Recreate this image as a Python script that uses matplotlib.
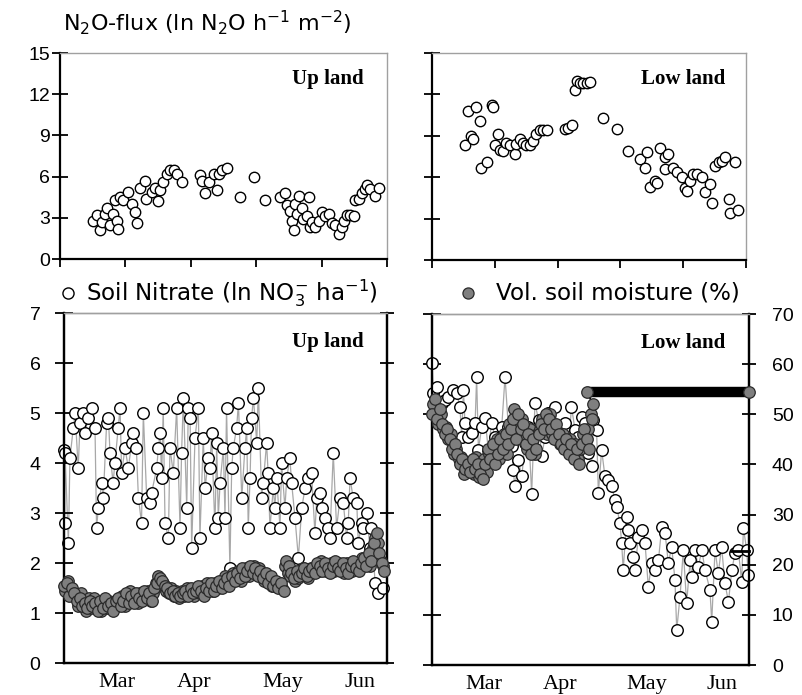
import matplotlib
matplotlib.use('Agg')
import matplotlib.pyplot as plt
from matplotlib.lines import Line2D

plt.rcParams['font.family'] = ['Liberation Sans', 'DejaVu Sans']
plt.rcParams['mathtext.fontset'] = 'dejavusans'

# ---------------- DATA ----------------
# x = day index since start of record
month_labels = ['Mar', 'Apr', 'May', 'Jun']
month_pos = [20.5, 50.5, 84.5, 114.5]

# N2O flux, upland (ln N2O h-1 m-2)
up_n2o_day = [12.8, 14, 15.3, 16, 17.2, 17.9, 19, 20.4, 21, 21.7, 22.3, 23, 24.2, 26, 27.4, 28.7,
              29.3, 30.6, 32.5, 33, 35, 36.4, 37.6, 38.3, 39.5, 40.8, 42, 43.4, 44.6, 46.6, 53.6,
              54.2, 55.5, 56.8, 58.7, 60, 60.6, 61.9, 63.8, 68.9, 74, 78.4, 84.2, 86, 86.7, 88,
              88.6, 89.3, 90, 90.6, 91.2, 92.5, 93, 94.4, 95, 95.7, 96.3, 97.6, 98.9, 100, 101.4,
              102.7, 104, 105, 106.5, 107.8, 108.4, 109.7, 111, 112.2, 112.9, 114.2, 115.4, 116.7,
              117.3, 118.6, 120.5, 121.8]
up_n2o_val = [2.8, 3.2, 2.1, 2.7, 3.3, 3.7, 2.5, 3.3, 4.3, 2.8, 2.2, 4.5, 4.3, 4.9, 4.0, 3.4,
              2.6, 5.2, 5.7, 4.4, 4.9, 5.2, 4.2, 5.0, 5.6, 6.2, 6.5, 6.5, 6.2, 5.6, 6.1,
              5.7, 4.8, 5.6, 6.2, 5.0, 6.2, 6.5, 6.6, 4.5, 6.0, 4.3, 4.5, 4.8, 3.9, 3.5,
              2.8, 2.1, 4.0, 3.3, 4.6, 3.7, 2.9, 3.1, 4.5, 2.3, 2.7, 2.3, 2.8, 3.4, 3.1,
              3.3, 2.6, 2.5, 1.8, 2.3, 2.8, 3.2, 3.2, 3.1, 4.3, 4.4, 4.8, 5.1,
              5.4, 5.1, 4.6, 5.2]

# N2O flux, lowland
low_n2o_day = [13, 14.4, 15.7, 16.4, 17.7, 19, 19.7, 21.7, 23.7, 24.3, 26.3, 25, 27, 28.3, 29.6,
               31, 33, 33.6, 35, 36.3, 37.6, 39, 40.3, 41.6, 43, 44.3, 45.6, 53, 54.3, 55.6, 57,
               57.6, 58.9, 60.2, 61.6, 62.9, 68.2, 73.5, 78.2, 82.8, 84.8, 85.5, 86.8, 88.8, 89.5,
               90.8, 92.8, 94.1, 92.8, 96.1, 97.5, 99.5, 100.8, 101.5, 102.8, 104.1, 105.5, 107.5,
               108.8, 110.8, 111.4, 112.8, 114.1, 115.4, 116.8, 118.1, 118.8, 120.7, 122]
low_n2o_val = [8.3, 10.8, 9.0, 8.8, 11.1, 10.1, 6.7, 7.1, 11.2, 11.1, 9.1, 8.3, 8.0, 7.9, 8.5,
               8.3, 7.7, 8.4, 8.8, 8.5, 8.3, 8.3, 8.6, 9.1, 9.4, 9.4, 9.4, 9.5, 9.6, 9.8, 12.3,
               13.0, 12.8, 12.8, 12.8, 12.9, 10.3, 9.5, 7.9, 7.3, 6.7, 7.8, 5.3, 5.7, 5.6,
               8.1, 7.5, 7.7, 6.6, 6.7, 6.4, 6.0, 5.2, 5.0, 5.7, 6.2, 6.2, 6.0,
               4.9, 5.5, 4.1, 6.8, 7.1, 7.2, 7.5, 4.4, 3.4, 7.1, 3.6]

# Soil nitrate, upland (ln NO3- ha-1)
up_no3_day = [0, 0.2, 0.4, 1.7, 2.3, 3.6, 4.3, 5.5, 6.2, 7.5, 8.1, 9.4, 10.7, 12, 12.6, 13.3,
              14.6, 15.2, 16.5, 17.2, 17.8, 19, 19.7, 21, 21.7, 22.3, 23.6, 24.9, 26.2, 26.8, 28,
              28.8, 30, 30.7, 32, 33.3, 33.9, 35.9, 36.5, 37.2, 37.8, 38.4, 39.1, 40.4, 41, 42.3,
              43.6, 44.9, 45.5, 46.2, 47.5, 48.1, 48.8, 49.4, 50.7, 52, 52.6, 53.9, 54.6, 55.9,
              56.5, 57.1, 58.4, 59.1, 59.7, 60.4, 61.7, 62.3, 62.9, 64.2, 64.9, 65.5, 66.8, 67.5,
              68.8, 70, 70.7, 71.3, 72, 72.6, 73.3, 74.6, 75.2, 76.5, 77.1, 78.4, 79, 79.7, 81,
              81.6, 82.3, 83.6, 84.2, 85.5, 86.2, 87.4, 88.1, 89.4, 90.7, 92, 93.3, 94.5, 95.8,
              97.1, 97.8, 99.1, 99.7, 101, 102.3, 102.9, 104.2, 105.5, 106.8, 108.1, 109.4, 110,
              110.7, 111.9, 113.3, 113.9, 115.2, 115.8, 117.1, 118.4, 119, 120.4, 121.6, 123.6]
up_no3_val = [4.26, 2.8, 4.2, 2.4, 4.1, 4.7, 5.0, 3.9, 4.8, 5.0, 4.6, 4.9, 5.1, 4.7, 2.7, 3.1,
              3.6, 3.3, 4.8, 4.9, 4.2, 3.6, 4.0, 4.7, 5.1, 3.8, 4.3, 3.9, 4.4, 4.6, 4.3,
              3.3, 2.8, 5.0, 3.3, 3.2, 3.4, 3.9, 4.3, 4.6, 3.7, 5.1, 2.8, 2.5, 4.3, 3.8,
              5.1, 2.7, 4.2, 5.3, 3.1, 5.1, 4.9, 2.3, 4.5, 5.1, 2.5, 4.5, 3.5, 4.1,
              3.9, 4.6, 2.7, 4.4, 2.9, 3.6, 4.3, 2.9, 5.1, 1.9, 3.9, 4.3, 4.7, 5.2,
              3.3, 4.3, 4.7, 2.7, 3.7, 4.9, 5.3, 4.4, 5.5, 3.3, 3.6, 4.4, 3.8, 2.7, 3.5,
              3.1, 3.7, 2.7, 4.0, 3.1, 3.7, 4.1, 3.6, 2.9, 2.1, 3.1, 3.5, 3.7, 3.8,
              2.6, 3.3, 3.4, 3.1, 2.9, 2.7, 2.5, 4.2, 2.7, 3.3, 3.2, 2.5, 2.8,
              3.7, 3.3, 3.2, 2.4, 2.8, 2.7, 3.0, 2.3, 2.7, 1.6, 1.4, 1.5]

# Volumetric soil moisture, upland (%) - morning readings
up_moist_day = [0, 1, 2, 3, 4, 5, 6, 7, 8, 9, 10, 11, 12, 13, 14, 15, 16, 17, 18, 19, 20,
                21, 22, 23, 24, 25, 26, 27, 28, 29, 30, 31, 32, 33, 34, 35, 36, 37, 38, 39,
                40, 41, 42, 43, 44, 45, 46, 47, 48, 49, 50, 51, 52, 53, 54, 55, 56, 57, 58,
                59, 60, 61, 62, 63, 64, 65, 66, 67, 68, 69, 70, 71, 72, 73, 74, 75, 76, 77,
                78, 79, 80, 81, 82, 83, 84, 85, 86, 87, 88, 89, 90, 91, 92, 93, 94, 95, 96,
                97, 98, 99, 100, 101, 102, 103, 104, 105, 106, 107, 108, 109, 110, 111, 112,
                113, 114, 115, 116, 117, 118, 119, 120, 121, 122, 123, 124]
up_moist_val = [15.5, 16.0, 13.5, 15.0,
                14, 12.5, 13, 11.5, 12, 11, 12.5,
                11.5, 12, 10.5, 12.5, 11, 13, 11.5, 12, 10.5, 12.5,
                13, 11.5, 12.5, 14, 12, 13.5, 12, 14, 13, 12.5,
                14.5, 13, 14, 12.5, 15, 16, 17, 16.5, 15.5,
                15, 14, 14.5, 13.5, 14, 13.5, 14, 14.5, 13.5, 15, 14, 14.5,
                15.5, 14.5, 13.5, 15, 14.5, 16, 14.5, 15.5, 16.5, 15,
                16, 17, 15.5, 17.5, 16.5, 18, 17, 19, 17.5, 18.5,
                19.5, 18, 19, 17.5, 18.5, 17, 18, 16, 17.5, 15.5,
                16.5, 15, 16, 14.5,
                20.5, 19.5, 18, 17, 18.5, 17.5, 18, 19, 17.5, 18.5,
                19, 18, 20, 19.5, 18.5, 20, 19, 18, 19.5, 20.5,
                19, 18.5, 20, 19, 18, 19.5, 20.5, 19, 18.5, 20,
                21, 19.5, 22, 20.5, 24, 26, 22, 20, 18.5]
# Volumetric soil moisture, upland (%) - evening readings
up_moist2_day = [0.5, 1.5, 2.5, 3.5, 4.5, 5.5, 6.5, 7.5, 8.5, 9.5, 10.5, 11.5, 12.5, 13.5, 14.5,
                 15.5, 16.5, 17.5, 18.5, 19.5, 20.5, 21.5, 22.5, 23.5, 24.5, 25.5, 26.5, 27.5,
                 28.5, 29.5, 30.5, 31.5, 32.5, 33.5, 34.5, 35.5, 36.5, 37.5, 38.5, 39.5, 40.5,
                 41.5, 42.5, 43.5, 44.5, 45.5, 46.5, 47.5, 48.5, 49.5, 50.5, 51.5, 52.5, 53.5,
                 54.5, 55.5, 56.5, 57.5, 58.5, 59.5, 60.5, 61.5, 62.5, 63.5, 64.5, 65.5, 66.5,
                 67.5, 68.5, 69.5, 70.5, 71.5, 72.5, 73.5, 74.5, 75.5, 76.5, 77.5, 78.5, 79.5,
                 80.5, 81.5, 82.5, 83.5, 84.5, 85.5, 86.5, 87.5, 88.5, 89.5, 90.5, 91.5, 92.5,
                 93.5, 94.5, 95.5, 96.5, 97.5, 98.5, 99.5, 100.5, 101.5, 102.5, 103.5, 104.5,
                 105.5, 106.5, 107.5, 108.5, 109.5, 110.5, 111.5, 112.5, 113.5, 114.5, 115.5,
                 116.5, 117.5, 118.5, 119.5, 120.5, 121.5, 122.5, 123.5]
up_moist2_val = [14.5, 16.5, 14, 13.5,
                 13.5, 11.5, 14, 12.5, 10.5, 13, 11,
                 13, 11, 12, 10.5, 12.5, 11, 12.5, 11, 12, 11.5,
                 12, 13.5, 11.5, 12.5, 14.5, 12.5, 13, 12, 14, 13.5,
                 13.5, 14.5, 12.5, 14, 16, 17.5, 15.5, 16, 14.5,
                 14, 15, 13.5, 14.5, 13, 14.5, 13.5, 15, 14, 14.5, 13.5, 15,
                 14, 15.5, 14, 16, 15, 14.5, 16, 15, 15.5, 16.5,
                 17.5, 16, 16.5, 18, 17, 18.5, 16.5, 18, 19, 17.5,
                 18.5, 19.5, 18, 19, 17.5, 16.5, 17, 16.5, 15.5, 16,
                 15.5, 16, 15, 19.5,
                 18, 17.5, 18, 16.5, 17, 18.5, 19, 18.5, 17, 19,
                 18.5, 19.5, 18.5, 20.5, 19, 18.5, 19.5, 20, 18.5, 19.5,
                 20, 19, 18, 20, 19, 18.5, 20, 19.5, 19, 21,
                 20, 21.5, 19.5, 23, 25, 24, 20.5, 19.5]

# Soil nitrate, lowland (ln NO3- ha-1)
low_no3_day = [0, 0.5, 1.8, 2.5, 3.8, 5.1, 6.4, 8.4, 9.7, 11, 11.7, 12.4, 13, 14.3, 15.6, 17,
               17.6, 18.3, 19.6, 20.9, 22.2, 23.5, 24.8, 26.2, 27.5, 28.8, 30.1, 31.4, 32, 32.7,
               34, 35.4, 36.7, 38, 39.3, 40.6, 42, 43.2, 44.6, 45.9, 47.2, 48.5, 49.8, 51.1,
               52.4, 53.8, 55, 56.4, 57.7, 59, 60.3, 61.6, 62.9, 63.6, 64.9, 65.6, 66.9, 68.2,
               69.5, 70.8, 72.2, 72.8, 74.1, 74.8, 75.4, 76.8, 77.4, 78.1, 79.4, 80, 81.4, 82.7,
               84, 85.3, 86.6, 87.9, 89.3, 90.6, 91.9, 93.2, 94.5, 95.8, 96.5, 97.8, 99.1,
               100.4, 101.8, 102.4, 103.7, 105, 106.4, 107.7, 109.6, 110.3, 111.6, 112.9,
               114.2, 115.5, 116.9, 118.2, 119.5, 120.8, 122.1, 122.8, 124.1, 124.7]
low_no3_val = [6.03, 5.42, 5.55, 5.09, 5.22, 5.29, 5.35, 5.49, 5.42, 5.15, 4.55, 5.49, 4.82,
               4.55, 4.62, 4.82, 5.75, 4.29, 4.75, 4.92, 4.29, 4.82, 4.55, 4.49, 4.75, 5.75,
               4.75, 4.36, 3.89, 3.56, 4.09, 3.76, 4.42, 4.75, 3.42, 5.22, 4.89, 4.16, 4.55,
               5.02, 4.75, 5.15, 4.55, 4.42, 4.82, 4.29, 5.15, 4.69, 4.55, 4.95, 4.82, 4.22,
               3.96, 4.89, 4.69, 3.43, 4.29, 3.76, 3.69, 3.56, 3.29, 3.16, 2.83, 2.43, 1.89,
               2.96, 2.69, 2.43, 2.16, 1.89, 2.56, 2.69, 2.43, 1.56, 2.03, 1.89, 2.09, 2.76,
               2.63, 2.03, 2.36, 1.70, 0.70, 1.36, 2.29, 1.23, 2.09, 1.76, 2.29, 1.96, 2.29,
               1.89, 1.50, 0.86, 2.29, 1.83, 2.36, 1.63, 1.26, 1.89, 2.23, 2.29, 1.66, 2.73,
               2.29, 1.80]

# Volumetric soil moisture, lowland (%) - morning readings
low_moist_day = [0, 1, 2, 3, 4, 5, 6, 7, 8, 9, 10, 11, 12, 13, 14, 15, 16, 17, 18, 19, 20, 21,
                 22, 23, 24, 25, 26, 27, 28, 29, 30, 31, 32, 33, 34, 35, 36, 37, 38, 39, 40, 41,
                 42, 43, 44, 45, 46, 47, 48, 49, 50, 51, 52, 53, 54, 55, 56, 57, 58, 59, 60, 61,
                 62, 63, 63.5]
low_moist_val = [50, 53, 49, 51, 48, 46,
                 47, 45, 43, 44, 42, 40, 41, 39,
                 40, 38.5, 41, 39, 40, 38, 37, 40,
                 43, 41, 44, 40, 42, 45, 43, 46, 44, 47,
                 49, 45, 50, 47, 48, 44, 46, 42, 45, 43,
                 46, 48, 47, 50, 49, 47, 45, 48, 46, 44,
                 43, 45, 42, 44, 41, 43, 40, 44, 47, 45,
                 43, 49, 52]
# Volumetric soil moisture, lowland (%) - evening readings
low_moist2_day = [0.5, 1.5, 2.5, 3.5, 4.5, 5.5, 6.5, 7.5, 8.5, 9.5, 10.5, 11.5, 12.5, 13.5,
                  14.5, 15.5, 16.5, 17.5, 18.5, 19.5, 20.5, 21.5, 22.5, 23.5, 24.5, 25.5, 26.5,
                  27.5, 28.5, 29.5, 30.5, 31.5, 32.5, 33.5, 34.5, 35.5, 36.5, 37.5, 38.5, 39.5,
                  40.5, 41.5, 42.5, 43.5, 44.5, 45.5, 46.5, 47.5, 48.5, 49.5, 50.5, 51.5, 52.5,
                  53.5, 54.5, 55.5, 56.5, 57.5, 58.5, 59.5, 60.5, 61.5, 62.5]
low_moist2_val = [52, 50, 48, 50, 47, 47.5,
                  45, 46, 42, 43, 41, 41.5, 38, 40,
                  39, 40, 38, 41.5, 37.5, 39, 41, 38.5,
                  42, 43, 40.5, 45, 41, 44, 46, 42, 48, 45,
                  51, 47, 48, 49, 45, 43, 47, 44, 42, 46,
                  47, 49, 48, 46, 50, 46, 47, 45, 44, 46,
                  44, 43, 45, 42, 44, 41, 43, 46, 44, 47,
                  50]
# saturated period (sensor at maximum)
low_sat_day = [61, 125]
low_sat_val = [54.5, 54.5]
low_end_day = [118, 125]
low_end_val = [22.8, 22.8]

# ---------------- FIGURE ----------------
W, H = 803, 695
fig = plt.figure(figsize=(W / 100, H / 100), dpi=100)


def rect(l, t, r, b):
    return [l / W, 1 - b / H, (r - l) / W, (b - t) / H]


ax1 = fig.add_axes(rect(60, 53, 387, 259))
ax2 = fig.add_axes(rect(432, 53, 746, 260))
ax3 = fig.add_axes(rect(64, 313, 387, 663))
ax4 = fig.add_axes(rect(432, 314, 749, 665))

GRAY_SP = '#a0a0a0'
open_kw = dict(marker='o', ms=7.5, mfc='white', mec='black', mew=1.0, ls='none', clip_on=False)
SERIF = 'Liberation Serif'
SANS_TXT = 'DejaVu Sans'


def frame(ax, right_black=False):
    ax.spines['top'].set_color(GRAY_SP)
    ax.spines['top'].set_linewidth(1.0)
    ax.spines['right'].set_color('black' if right_black else GRAY_SP)
    ax.spines['right'].set_linewidth(1.6 if right_black else 1.0)
    ax.spines['left'].set_linewidth(1.6)
    ax.spines['bottom'].set_linewidth(1.6)


# --- top panels ---
for ax, d, v, lab, lx in [(ax1, up_n2o_day, up_n2o_val, 'Up land', 0.82),
                          (ax2, low_n2o_day, low_n2o_val, 'Low land', 0.80)]:
    ax.plot(d, v, **open_kw)
    ax.set_xlim(0, 125)
    ax.set_ylim(0, 15)
    ax.set_yticks([0, 3, 6, 9, 12, 15])
    ax.set_xticks([0, 25, 50, 75, 100, 125])
    ax.set_xticklabels([])
    ax.tick_params(axis='y', direction='inout', length=11, width=1.3, pad=1.5, labelsize=14)
    ax.tick_params(axis='x', direction='out', length=6, width=1.3)
    frame(ax)
    ax.text(lx, 0.874, lab, transform=ax.transAxes, ha='center', va='center',
            family=SERIF, fontweight='bold', fontsize=15)
ax2.set_yticklabels([])

# --- bottom panels ---
line_kw = dict(color='#a8a8a8', lw=0.9, zorder=1, clip_on=False)
nit_kw = dict(marker='o', ms=8.3, mfc='white', mec='black', mew=1.0, ls='none', zorder=3,
              clip_on=False)
moist_kw = dict(marker='o', ms=8.3, mfc='#7f7f7f', mec='#2a2a2a', mew=0.9, ls='none',
                zorder=3, clip_on=False)

ax3.plot(up_no3_day, up_no3_val, **line_kw)
ax3.plot(up_no3_day, up_no3_val, **nit_kw)
ax4.plot(low_no3_day, low_no3_val, **line_kw)
ax4.plot(low_no3_day, low_no3_val, **nit_kw)

ax3t = ax3.twinx()
ax4t = ax4.twinx()
ax3t.plot(up_moist_day, up_moist_val, color='#1a1a80', lw=0.8, zorder=1, clip_on=False)
ax3t.plot(up_moist2_day, up_moist2_val, **moist_kw)
ax3t.plot(up_moist_day, up_moist_val, **moist_kw)
ax4t.plot(low_moist_day, low_moist_val, color='black', lw=1.0, zorder=1, clip_on=False)
ax4t.plot(low_moist2_day, low_moist2_val, **moist_kw)
ax4t.plot(low_moist_day, low_moist_val, **moist_kw)
ax4t.plot([low_moist_day[-1], low_sat_day[0]], [low_moist_val[-1], low_sat_val[0]],
          color='black', lw=1.2, zorder=2)
ax4t.plot(low_sat_day, low_sat_val, color='black', lw=7.5, solid_capstyle='butt', zorder=2,
          clip_on=False)
ax4t.plot(low_sat_day, low_sat_val, **moist_kw)
ax4t.plot(low_end_day, low_end_val, color='black', lw=2.0, zorder=2, clip_on=False)

for ax, axt, lab, lx in [(ax3, ax3t, 'Up land', 0.816), (ax4, ax4t, 'Low land', 0.792)]:
    ax.set_xlim(0, 125)
    ax.set_ylim(0, 7)
    ax.set_yticks(range(0, 8))
    ax.set_xticks(month_pos)
    ax.set_xticklabels(month_labels, family=SERIF, fontsize=16)
    ax.tick_params(axis='x', length=0, pad=7)
    ax.tick_params(axis='y', direction='inout', length=13, width=1.3, pad=10.5, labelsize=14)
    axt.set_ylim(0, 70)
    axt.set_yticks(range(0, 80, 10))
    axt.tick_params(axis='y', direction='inout', length=10, width=1.3, pad=11.5, labelsize=14)
    frame(ax, right_black=True)
    frame(axt, right_black=True)
    axt.text(lx, 0.918, lab, transform=ax.transAxes, ha='center', va='center',
             family=SERIF, fontweight='bold', fontsize=15, zorder=10)

ax3t.set_yticklabels([])
ax4.set_yticklabels([])

# --- titles / legend keys ---
fig.text(63 / W, 1 - 23 / H, r'N$_2$O-flux (ln N$_2$O h$^{-1}$ m$^{-2}$)', fontsize=16,
         family=SANS_TXT, ha='left', va='center')
fig.add_artist(Line2D([68 / W], [1 - 293 / H], marker='o', ms=8, mfc='white', mec='black',
                      mew=1.0, transform=fig.transFigure))
fig.text(86 / W, 1 - 293 / H, r'Soil Nitrate (ln NO$_3^{-}$ ha$^{-1}$)', fontsize=16.6,
         family=SANS_TXT, ha='left', va='center')
fig.add_artist(Line2D([468 / W], [1 - 293 / H], marker='o', ms=8, mfc='#7f7f7f',
                      mec='#2a2a2a', mew=0.9, transform=fig.transFigure))
fig.text(496 / W, 1 - 293 / H, 'Vol. soil moisture (%)', fontsize=16.6, family=SANS_TXT,
         ha='left', va='center')

fig.savefig('out.png', dpi=100)
